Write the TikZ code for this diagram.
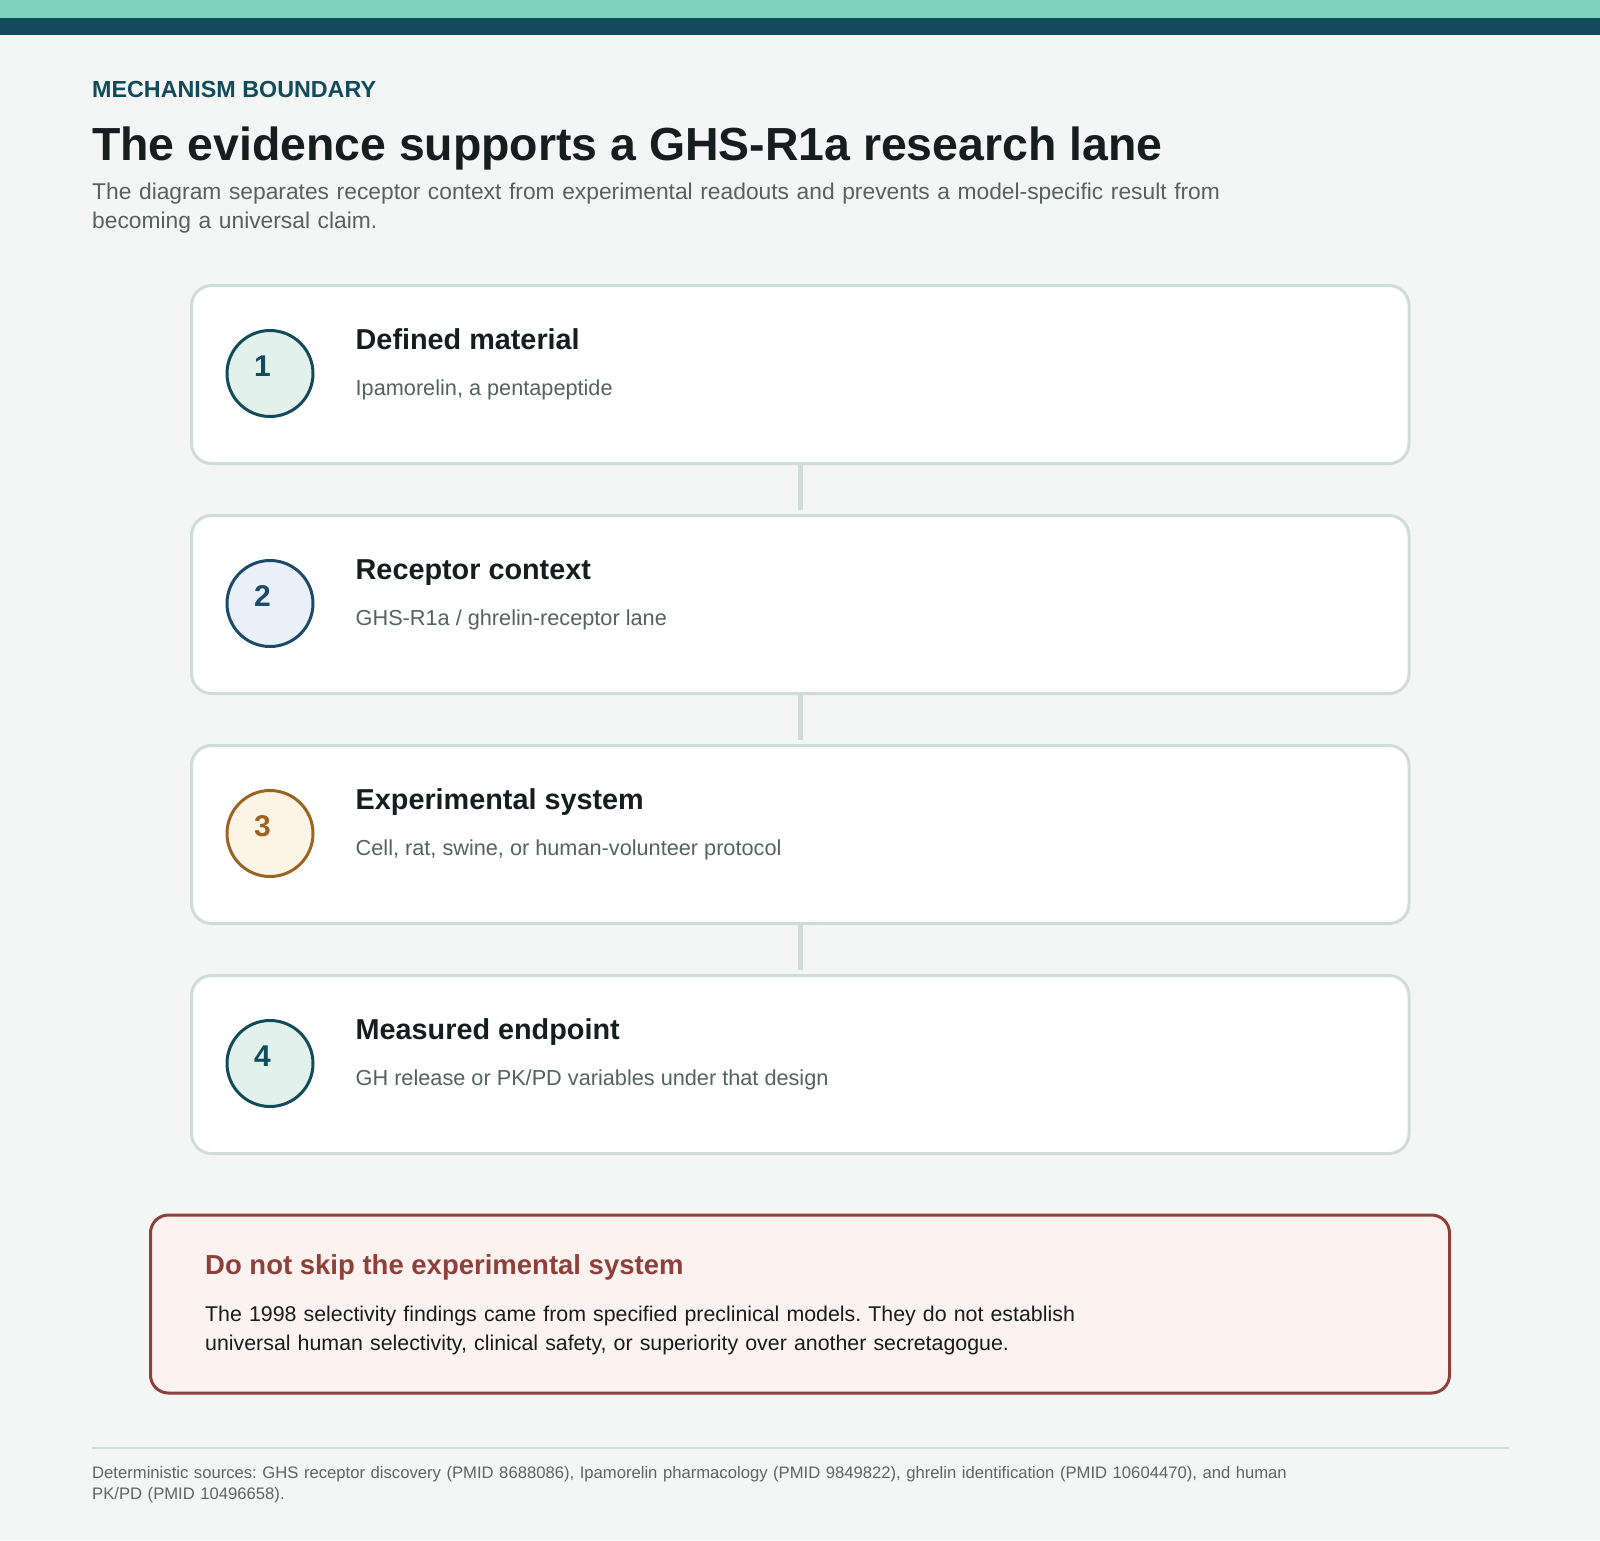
\documentclass[tikz,border=0pt]{standalone}
\usepackage{fontspec}
\setmainfont{Liberation Sans}
\frenchspacing
\definecolor{bg}{HTML}{F4F6F5}
\definecolor{bandlight}{HTML}{7FD3BC}
\definecolor{banddark}{HTML}{124B5A}
\definecolor{ink}{HTML}{161D1C}
\definecolor{muted}{HTML}{56625F}
\definecolor{cardline}{HTML}{CFDCD8}
\definecolor{tealfill}{HTML}{E3F1ED}
\definecolor{bluefill}{HTML}{E9F0F7}
\definecolor{bluestroke}{HTML}{1D4A6B}
\definecolor{amberfill}{HTML}{FDF4E6}
\definecolor{amberstroke}{HTML}{9A6424}
\definecolor{alertred}{HTML}{8E403B}
\definecolor{alertbg}{HTML}{FCF2EF}
\definecolor{footgray}{HTML}{5C6664}
\begin{document}
\begin{tikzpicture}[x=1pt,y=-1pt,
  card/.style={draw=cardline, line width=3pt, fill=white, rounded corners=20pt,
    minimum width=1217.5pt, minimum height=178pt, inner sep=0pt},
  numcirc/.style={circle, line width=3pt, minimum size=86pt, inner sep=0pt},
  numtxt/.style={anchor=base, inner sep=0pt, font=\fontsize{30pt}{30pt}\selectfont\bfseries},
  cardttl/.style={anchor=base west, inner sep=0pt, text=ink, font=\fontsize{28.8pt}{34pt}\selectfont\bfseries},
  cardsub/.style={anchor=base west, inner sep=0pt, text=muted, font=\fontsize{21.7pt}{28pt}\selectfont},
  link/.style={draw=cardline, line width=4.5pt, shorten >=4pt},
  textblock/.style={anchor=base west, inner sep=0pt, text width=1450pt, align=left}
]
\useasboundingbox (0,0) rectangle (1600,1540);
\fill[bg] (0,0) rectangle (1600,1540);
\fill[bandlight] (0,0) rectangle (1600,18);
\fill[banddark] (0,18) rectangle (1600,35);

% header
\node[anchor=base west, inner sep=0pt, text=banddark, font=\fontsize{23.3pt}{28pt}\selectfont\bfseries] (kicker) at (92,97.3) {MECHANISM BOUNDARY};
\node[anchor=base west, inner sep=0pt, text=ink, font=\fontsize{46.4pt}{54pt}\selectfont\bfseries] (title) at (92,160.7) {The evidence supports a GHS-R1a research lane};
\node[textblock, text=muted, font=\fontsize{22.8pt}{29pt}\selectfont] (desc) at (92,199.3) {The diagram separates receptor context from experimental readouts and prevents a model-specific result from\\becoming a universal claim.};

% cards
\node[card] (card1) at (800.25,374.5) {};
\node[card] (card2) at (800.25,604.5) {};
\node[card] (card3) at (800.25,834.5) {};
\node[card] (card4) at (800.25,1064.5) {};

\draw[link] (card1.south) -- (card2.north);
\draw[link] (card2.south) -- (card3.north);
\draw[link] (card3.south) -- (card4.north);

% card 1
\node[numcirc, draw=banddark, fill=tealfill] (c1) at (270,373.5) {};
\node[numtxt, text=banddark] (n1) at (262.5,376.5) {1};
\node[cardttl] (t1) at (355.5,349.1) {Defined material};
\node[cardsub] (s1) at (355.5,395.5) {Ipamorelin, a pentapeptide};
% card 2
\node[numcirc, draw=bluestroke, fill=bluefill] (c2) at (270,603.5) {};
\node[numtxt, text=bluestroke] (n2) at (262.5,606.5) {2};
\node[cardttl] (t2) at (355.5,579.1) {Receptor context};
\node[cardsub] (s2) at (355.5,625.5) {GHS-R1a / ghrelin-receptor lane};
% card 3
\node[numcirc, draw=amberstroke, fill=amberfill] (c3) at (270,833.5) {};
\node[numtxt, text=amberstroke] (n3) at (262.5,836.5) {3};
\node[cardttl] (t3) at (355.5,809.1) {Experimental system};
\node[cardsub] (s3) at (355.5,855.5) {Cell, rat, swine, or human-volunteer protocol};
% card 4
\node[numcirc, draw=banddark, fill=tealfill] (c4) at (270,1063.5) {};
\node[numtxt, text=banddark] (n4) at (262.5,1066.5) {4};
\node[cardttl] (t4) at (355.5,1039.1) {Measured endpoint};
\node[cardsub] (s4) at (355.5,1085.5) {GH release or PK/PD variables under that design};

% alert
\node[draw=alertred, line width=3pt, fill=alertbg, rounded corners=18pt,
  minimum width=1299pt, minimum height=178pt, inner sep=0pt] (alert) at (800,1304) {};
\node[anchor=base west, inner sep=0pt, text=alertred, font=\fontsize{27.5pt}{32pt}\selectfont\bfseries] (alertttl) at (205,1274) {Do not skip the experimental system};
\node[textblock, text=ink, font=\fontsize{21.35pt}{29pt}\selectfont] (alertbody) at (205,1321.7) {The 1998 selectivity findings came from specified preclinical models. They do not establish\\universal human selectivity, clinical safety, or superiority over another secretagogue.};

% footer
\draw[cardline, line width=2pt] (92,1448) coordinate (sepL) -- (1509,1448) coordinate (sepR);
\node[textblock, text=footgray, font=\fontsize{16.65pt}{21pt}\selectfont] (foot) at (92,1478) {Deterministic sources: GHS receptor discovery (PMID 8688086), Ipamorelin pharmacology (PMID 9849822), ghrelin identification (PMID 10604470), and human\\PK/PD (PMID 10496658).};
\end{tikzpicture}
\end{document}
